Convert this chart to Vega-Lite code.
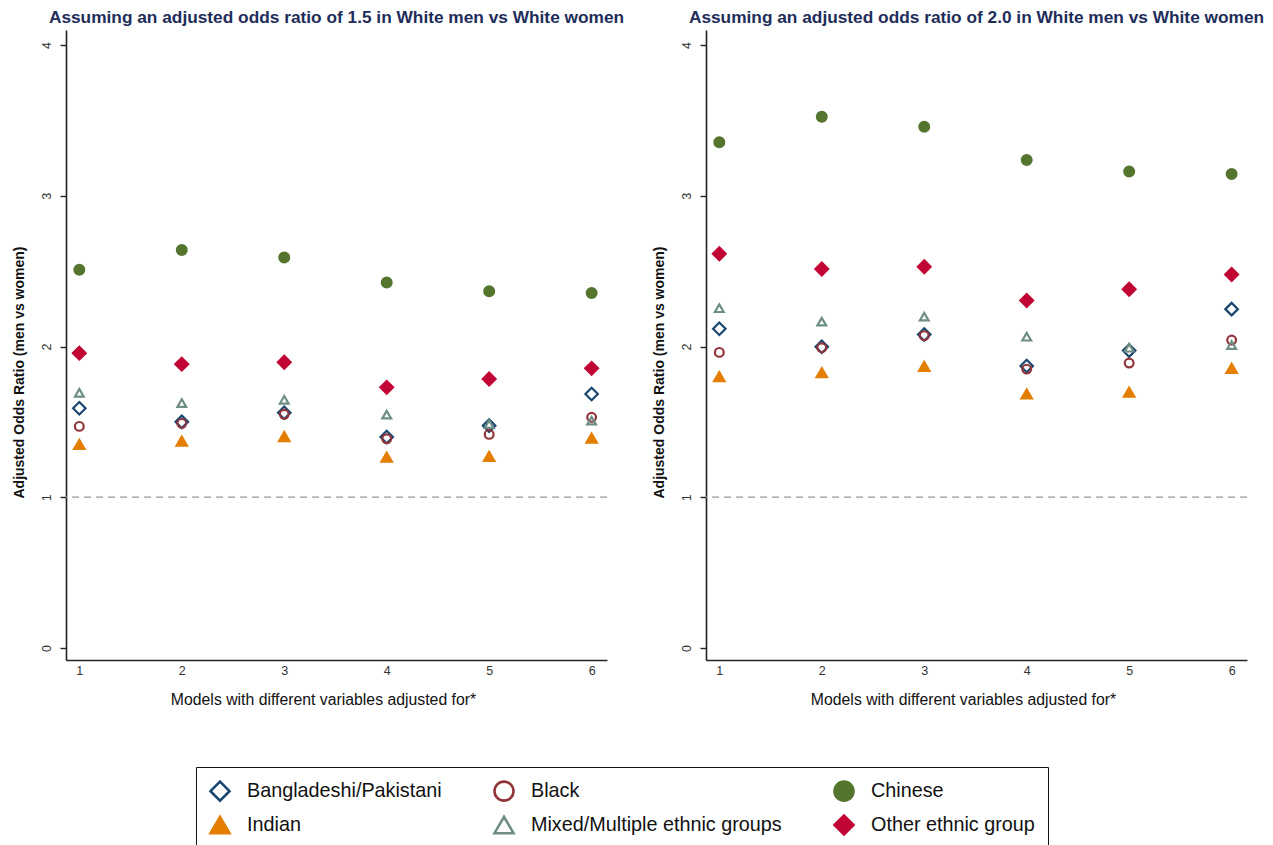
{
  "$schema": "https://vega.github.io/schema/vega-lite/v6.json",
  "background": "white",
  "padding": {"left": 12, "top": 8, "right": 5, "bottom": 5},
  "config": {"font": "Liberation Sans", "view": {"stroke": null}},
  "data": {"values": [
    {"panel": "Assuming an adjusted odds ratio of 1.5 in White men vs White women", "group": "Bangladeshi/Pakistani", "model": 1, "aor": 1.59},
    {"panel": "Assuming an adjusted odds ratio of 1.5 in White men vs White women", "group": "Bangladeshi/Pakistani", "model": 2, "aor": 1.50},
    {"panel": "Assuming an adjusted odds ratio of 1.5 in White men vs White women", "group": "Bangladeshi/Pakistani", "model": 3, "aor": 1.56},
    {"panel": "Assuming an adjusted odds ratio of 1.5 in White men vs White women", "group": "Bangladeshi/Pakistani", "model": 4, "aor": 1.40},
    {"panel": "Assuming an adjusted odds ratio of 1.5 in White men vs White women", "group": "Bangladeshi/Pakistani", "model": 5, "aor": 1.475},
    {"panel": "Assuming an adjusted odds ratio of 1.5 in White men vs White women", "group": "Bangladeshi/Pakistani", "model": 6, "aor": 1.685},
    {"panel": "Assuming an adjusted odds ratio of 1.5 in White men vs White women", "group": "Black", "model": 1, "aor": 1.47},
    {"panel": "Assuming an adjusted odds ratio of 1.5 in White men vs White women", "group": "Black", "model": 2, "aor": 1.49},
    {"panel": "Assuming an adjusted odds ratio of 1.5 in White men vs White women", "group": "Black", "model": 3, "aor": 1.55},
    {"panel": "Assuming an adjusted odds ratio of 1.5 in White men vs White women", "group": "Black", "model": 4, "aor": 1.388},
    {"panel": "Assuming an adjusted odds ratio of 1.5 in White men vs White women", "group": "Black", "model": 5, "aor": 1.417},
    {"panel": "Assuming an adjusted odds ratio of 1.5 in White men vs White women", "group": "Black", "model": 6, "aor": 1.53},
    {"panel": "Assuming an adjusted odds ratio of 1.5 in White men vs White women", "group": "Chinese", "model": 1, "aor": 2.51},
    {"panel": "Assuming an adjusted odds ratio of 1.5 in White men vs White women", "group": "Chinese", "model": 2, "aor": 2.64},
    {"panel": "Assuming an adjusted odds ratio of 1.5 in White men vs White women", "group": "Chinese", "model": 3, "aor": 2.59},
    {"panel": "Assuming an adjusted odds ratio of 1.5 in White men vs White women", "group": "Chinese", "model": 4, "aor": 2.425},
    {"panel": "Assuming an adjusted odds ratio of 1.5 in White men vs White women", "group": "Chinese", "model": 5, "aor": 2.366},
    {"panel": "Assuming an adjusted odds ratio of 1.5 in White men vs White women", "group": "Chinese", "model": 6, "aor": 2.355},
    {"panel": "Assuming an adjusted odds ratio of 1.5 in White men vs White women", "group": "Indian", "model": 1, "aor": 1.35},
    {"panel": "Assuming an adjusted odds ratio of 1.5 in White men vs White women", "group": "Indian", "model": 2, "aor": 1.372},
    {"panel": "Assuming an adjusted odds ratio of 1.5 in White men vs White women", "group": "Indian", "model": 3, "aor": 1.403},
    {"panel": "Assuming an adjusted odds ratio of 1.5 in White men vs White women", "group": "Indian", "model": 4, "aor": 1.266},
    {"panel": "Assuming an adjusted odds ratio of 1.5 in White men vs White women", "group": "Indian", "model": 5, "aor": 1.271},
    {"panel": "Assuming an adjusted odds ratio of 1.5 in White men vs White women", "group": "Indian", "model": 6, "aor": 1.392},
    {"panel": "Assuming an adjusted odds ratio of 1.5 in White men vs White women", "group": "Mixed/Multiple ethnic groups", "model": 1, "aor": 1.693},
    {"panel": "Assuming an adjusted odds ratio of 1.5 in White men vs White women", "group": "Mixed/Multiple ethnic groups", "model": 2, "aor": 1.625},
    {"panel": "Assuming an adjusted odds ratio of 1.5 in White men vs White women", "group": "Mixed/Multiple ethnic groups", "model": 3, "aor": 1.646},
    {"panel": "Assuming an adjusted odds ratio of 1.5 in White men vs White women", "group": "Mixed/Multiple ethnic groups", "model": 4, "aor": 1.548},
    {"panel": "Assuming an adjusted odds ratio of 1.5 in White men vs White women", "group": "Mixed/Multiple ethnic groups", "model": 5, "aor": 1.485},
    {"panel": "Assuming an adjusted odds ratio of 1.5 in White men vs White women", "group": "Mixed/Multiple ethnic groups", "model": 6, "aor": 1.508},
    {"panel": "Assuming an adjusted odds ratio of 1.5 in White men vs White women", "group": "Other ethnic group", "model": 1, "aor": 1.956},
    {"panel": "Assuming an adjusted odds ratio of 1.5 in White men vs White women", "group": "Other ethnic group", "model": 2, "aor": 1.883},
    {"panel": "Assuming an adjusted odds ratio of 1.5 in White men vs White women", "group": "Other ethnic group", "model": 3, "aor": 1.895},
    {"panel": "Assuming an adjusted odds ratio of 1.5 in White men vs White women", "group": "Other ethnic group", "model": 4, "aor": 1.729},
    {"panel": "Assuming an adjusted odds ratio of 1.5 in White men vs White women", "group": "Other ethnic group", "model": 5, "aor": 1.784},
    {"panel": "Assuming an adjusted odds ratio of 1.5 in White men vs White women", "group": "Other ethnic group", "model": 6, "aor": 1.855},
    {"panel": "Assuming an adjusted odds ratio of 2.0 in White men vs White women", "group": "Bangladeshi/Pakistani", "model": 1, "aor": 2.118},
    {"panel": "Assuming an adjusted odds ratio of 2.0 in White men vs White women", "group": "Bangladeshi/Pakistani", "model": 2, "aor": 1.998},
    {"panel": "Assuming an adjusted odds ratio of 2.0 in White men vs White women", "group": "Bangladeshi/Pakistani", "model": 3, "aor": 2.08},
    {"panel": "Assuming an adjusted odds ratio of 2.0 in White men vs White women", "group": "Bangladeshi/Pakistani", "model": 4, "aor": 1.871},
    {"panel": "Assuming an adjusted odds ratio of 2.0 in White men vs White women", "group": "Bangladeshi/Pakistani", "model": 5, "aor": 1.973},
    {"panel": "Assuming an adjusted odds ratio of 2.0 in White men vs White women", "group": "Bangladeshi/Pakistani", "model": 6, "aor": 2.248},
    {"panel": "Assuming an adjusted odds ratio of 2.0 in White men vs White women", "group": "Black", "model": 1, "aor": 1.961},
    {"panel": "Assuming an adjusted odds ratio of 2.0 in White men vs White women", "group": "Black", "model": 2, "aor": 1.992},
    {"panel": "Assuming an adjusted odds ratio of 2.0 in White men vs White women", "group": "Black", "model": 3, "aor": 2.072},
    {"panel": "Assuming an adjusted odds ratio of 2.0 in White men vs White women", "group": "Black", "model": 4, "aor": 1.85},
    {"panel": "Assuming an adjusted odds ratio of 2.0 in White men vs White women", "group": "Black", "model": 5, "aor": 1.89},
    {"panel": "Assuming an adjusted odds ratio of 2.0 in White men vs White women", "group": "Black", "model": 6, "aor": 2.043},
    {"panel": "Assuming an adjusted odds ratio of 2.0 in White men vs White women", "group": "Chinese", "model": 1, "aor": 3.355},
    {"panel": "Assuming an adjusted odds ratio of 2.0 in White men vs White women", "group": "Chinese", "model": 2, "aor": 3.524},
    {"panel": "Assuming an adjusted odds ratio of 2.0 in White men vs White women", "group": "Chinese", "model": 3, "aor": 3.458},
    {"panel": "Assuming an adjusted odds ratio of 2.0 in White men vs White women", "group": "Chinese", "model": 4, "aor": 3.238},
    {"panel": "Assuming an adjusted odds ratio of 2.0 in White men vs White women", "group": "Chinese", "model": 5, "aor": 3.161},
    {"panel": "Assuming an adjusted odds ratio of 2.0 in White men vs White women", "group": "Chinese", "model": 6, "aor": 3.145},
    {"panel": "Assuming an adjusted odds ratio of 2.0 in White men vs White women", "group": "Indian", "model": 1, "aor": 1.80},
    {"panel": "Assuming an adjusted odds ratio of 2.0 in White men vs White women", "group": "Indian", "model": 2, "aor": 1.826},
    {"panel": "Assuming an adjusted odds ratio of 2.0 in White men vs White women", "group": "Indian", "model": 3, "aor": 1.868},
    {"panel": "Assuming an adjusted odds ratio of 2.0 in White men vs White women", "group": "Indian", "model": 4, "aor": 1.685},
    {"panel": "Assuming an adjusted odds ratio of 2.0 in White men vs White women", "group": "Indian", "model": 5, "aor": 1.697},
    {"panel": "Assuming an adjusted odds ratio of 2.0 in White men vs White women", "group": "Indian", "model": 6, "aor": 1.855},
    {"panel": "Assuming an adjusted odds ratio of 2.0 in White men vs White women", "group": "Mixed/Multiple ethnic groups", "model": 1, "aor": 2.254},
    {"panel": "Assuming an adjusted odds ratio of 2.0 in White men vs White women", "group": "Mixed/Multiple ethnic groups", "model": 2, "aor": 2.165},
    {"panel": "Assuming an adjusted odds ratio of 2.0 in White men vs White women", "group": "Mixed/Multiple ethnic groups", "model": 3, "aor": 2.198},
    {"panel": "Assuming an adjusted odds ratio of 2.0 in White men vs White women", "group": "Mixed/Multiple ethnic groups", "model": 4, "aor": 2.065},
    {"panel": "Assuming an adjusted odds ratio of 2.0 in White men vs White women", "group": "Mixed/Multiple ethnic groups", "model": 5, "aor": 1.992},
    {"panel": "Assuming an adjusted odds ratio of 2.0 in White men vs White women", "group": "Mixed/Multiple ethnic groups", "model": 6, "aor": 2.01},
    {"panel": "Assuming an adjusted odds ratio of 2.0 in White men vs White women", "group": "Other ethnic group", "model": 1, "aor": 2.615},
    {"panel": "Assuming an adjusted odds ratio of 2.0 in White men vs White women", "group": "Other ethnic group", "model": 2, "aor": 2.514},
    {"panel": "Assuming an adjusted odds ratio of 2.0 in White men vs White women", "group": "Other ethnic group", "model": 3, "aor": 2.529},
    {"panel": "Assuming an adjusted odds ratio of 2.0 in White men vs White women", "group": "Other ethnic group", "model": 4, "aor": 2.305},
    {"panel": "Assuming an adjusted odds ratio of 2.0 in White men vs White women", "group": "Other ethnic group", "model": 5, "aor": 2.38},
    {"panel": "Assuming an adjusted odds ratio of 2.0 in White men vs White women", "group": "Other ethnic group", "model": 6, "aor": 2.478}
  ]},
  "facet": {
    "column": {
      "field": "panel", "type": "nominal",
      "header": {"title": null, "labelFontSize": 17.3, "labelFontWeight": "bold", "labelColor": "#1e2d5a", "labelFont": "Liberation Sans", "labelPadding": 4}
    }
  },
  "spacing": 44,
  "resolve": {"axis": {"y": "independent", "x": "independent"}},
  "spec": {
    "width": 541,
    "height": 630,
    "layer": [
      {
        "transform": [{"filter": "datum.model == 1 && datum.group == 'Chinese'"}],
        "mark": {"type": "rule", "strokeDash": [7, 5], "color": "#9a9a9a", "strokeWidth": 1.3},
        "encoding": {"y": {"datum": 1, "type": "quantitative"}}
      },
      {
        "mark": {"type": "point", "strokeWidth": 2.2, "opacity": 1},
        "encoding": {
          "x": {
            "field": "model", "type": "quantitative",
            "scale": {"domain": [0.87, 6.15], "nice": false, "zero": false},
            "axis": {"values": [1, 2, 3, 4, 5, 6], "ticks": false, "grid": false, "title": "Models with different variables adjusted for*", "titleFontSize": 15.8, "titleFontWeight": "normal", "titleColor": "#111", "titlePadding": 16, "titleX": 257, "labelFontSize": 12.5, "labelColor": "#333", "labelPadding": 4, "domainColor": "#222", "domainWidth": 1.6}
          },
          "y": {
            "field": "aor", "type": "quantitative",
            "scale": {"domain": [-0.08, 4.1], "nice": false, "zero": false},
            "axis": {"values": [0, 1, 2, 3, 4], "format": "d", "labelAngle": -90, "grid": false, "title": "Adjusted Odds Ratio (men vs women)", "titleFontSize": 14, "titleFontWeight": "bold", "titleColor": "#111", "titlePadding": 14, "titleY": 342, "labelFontSize": 12.5, "labelColor": "#333", "labelPadding": 7, "tickSize": 6, "tickColor": "#222", "tickWidth": 1.4, "domainColor": "#222", "domainWidth": 1.6}
          },
          "shape": {
            "field": "group", "type": "nominal",
            "scale": {"domain": ["Bangladeshi/Pakistani", "Black", "Chinese", "Indian", "Mixed/Multiple ethnic groups", "Other ethnic group"], "range": ["diamond", "circle", "circle", "triangle-up", "triangle-up", "diamond"]},
            "legend": {"title": null, "orient": "none", "legendX": 130, "legendY": 737, "direction": "horizontal", "columns": 3, "columnPadding": 47, "rowPadding": 4, "padding": 13, "symbolSize": 360, "symbolStrokeWidth": 2.6, "labelFontSize": 19.8, "labelFont": "Liberation Sans", "labelColor": "#111", "labelOffset": 16, "labelLimit": 400, "strokeColor": "#111", "fillColor": "white"}
          },
          "stroke": {
            "field": "group", "type": "nominal",
            "scale": {"domain": ["Bangladeshi/Pakistani", "Black", "Chinese", "Indian", "Mixed/Multiple ethnic groups", "Other ethnic group"], "range": ["#1a476f", "#90353b", "#55752f", "#e37e00", "#6e8e84", "#c10534"]}
          },
          "fill": {
            "field": "group", "type": "nominal",
            "scale": {"domain": ["Bangladeshi/Pakistani", "Black", "Chinese", "Indian", "Mixed/Multiple ethnic groups", "Other ethnic group"], "range": ["transparent", "transparent", "#55752f", "#e37e00", "transparent", "#c10534"]}
          },
          "size": {
            "field": "group", "type": "nominal",
            "scale": {"type": "ordinal", "domain": ["Other ethnic group", "Mixed/Multiple ethnic groups", "Indian", "Chinese", "Black", "Bangladeshi/Pakistani"], "range": [164, 77, 110, 96, 77, 156]},
            "legend": null
          }
        }
      }
    ]
  }
}
